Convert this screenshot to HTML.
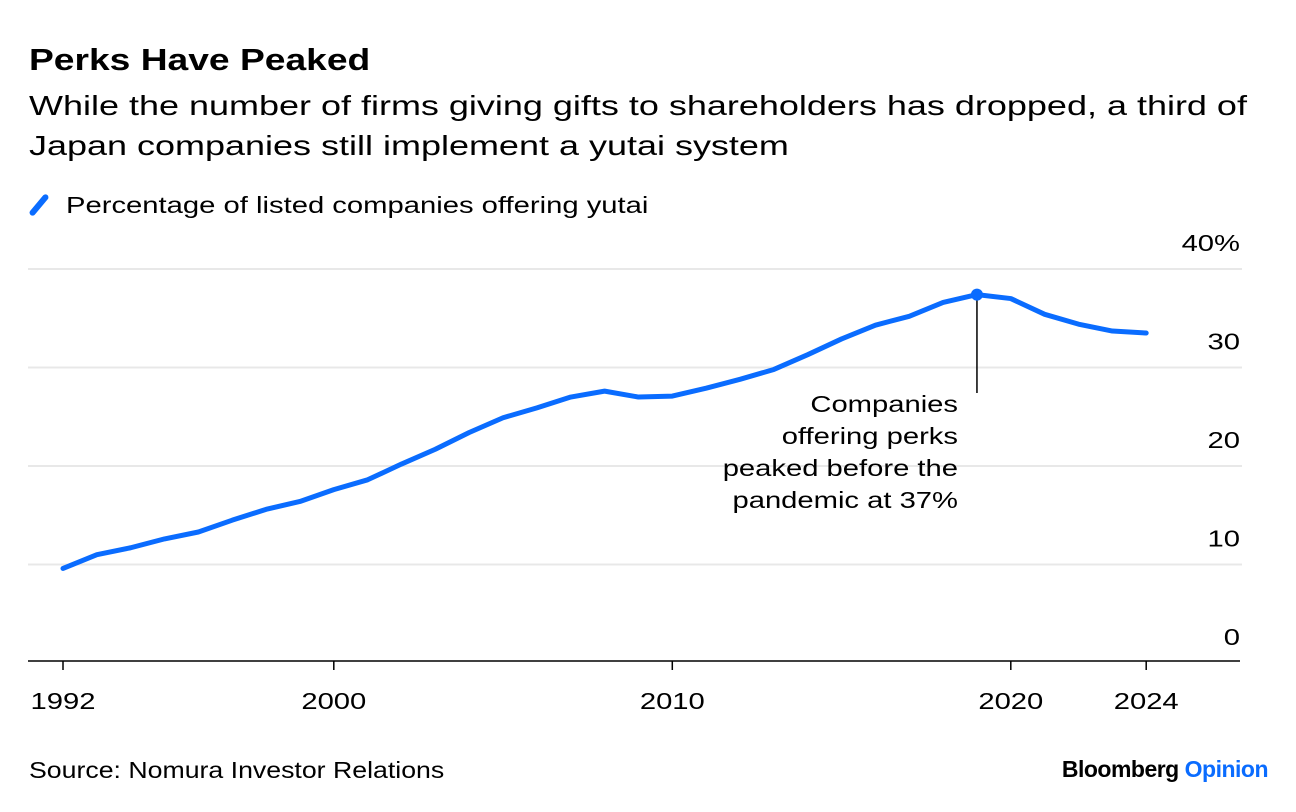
<!DOCTYPE html>
<html><head><meta charset="utf-8"><style>
body{margin:0;background:#fff;font-family:"Liberation Sans",Arial,sans-serif;}
#wrap{position:relative;width:1296px;height:812px;overflow:hidden;}
.t{position:absolute;color:#000;white-space:nowrap;transform-origin:0 0;}
</style></head><body>
<div id="wrap">
<div class="t" style="left:29px;top:42px;font-size:31px;font-weight:bold;transform:scaleX(1.2)">Perks Have Peaked</div>
<div class="t" style="left:29px;top:86px;font-size:28px;line-height:40px;transform:scaleX(1.285)">While the number of firms giving gifts to shareholders has dropped, a third of<br>Japan companies still implement a yutai system</div>
<span style="position:absolute;left:36px;top:192px;width:6px;height:26px;background:#0a6cff;transform:rotate(40deg);border-radius:3px"></span>
<div class="t" style="left:66px;top:192px;font-size:23px;transform:scaleX(1.27)">Percentage of listed companies offering yutai</div>
<svg id="chart" width="1296" height="812" style="position:absolute;left:0;top:0"></svg>
<div class="t" style="left:29px;top:757px;font-size:23px;transform:scaleX(1.16)">Source: Nomura Investor Relations</div>
<div class="t" style="right:28px;top:756px;font-size:23px;font-weight:bold;letter-spacing:-0.5px">Bloomberg <span style="color:#0a6cff">Opinion</span></div>
</div>
<script>
const years=[1992,1993,1994,1995,1996,1997,1998,1999,2000,2001,2002,2003,2004,2005,2006,2007,2008,2009,2010,2011,2012,2013,2014,2015,2016,2017,2018,2019,2020,2021,2022,2023,2024];
const values=[9.6,11.0,11.7,12.6,13.3,14.5,15.6,16.4,17.6,18.6,20.2,21.7,23.4,24.9,25.9,27.0,27.6,27.0,27.1,27.9,28.8,29.8,31.3,32.9,34.3,35.2,36.6,37.4,37.0,35.4,34.4,33.7,33.5];
const yTicks=[0,10,20,30,40];
const yTickLabels=["0","10","20","30","40%"];
const xTicks=[1992,2000,2010,2020,2024];
const peakYear=2019;
const annotationLines=["Companies","offering perks","peaked before the","pandemic at 37%"];
const ns="http://www.w3.org/2000/svg";
const svg=document.getElementById('chart');
const x=v=>63+(v-1992)*33.85;
const y=v=>663-v*9.85;
const SX=1.27;
function mk(tag,attrs,parent){const e=document.createElementNS(ns,tag);for(const k in attrs)e.setAttribute(k,attrs[k]);(parent||svg).appendChild(e);return e;}
function txt(s,tx,ty,anchor){const e=mk('text',{transform:'translate('+tx+','+ty+') scale('+SX+',1)','text-anchor':anchor,'font-size':23,'font-family':'Liberation Sans, Arial, sans-serif'});e.textContent=s;return e;}
yTicks.forEach((t,i)=>{
 if(t>0){const g=mk('line',{x1:28,x2:1242,y1:y(t),y2:y(t),stroke:'#e8e8e8','stroke-width':2});
 
 }
 const l=txt(yTickLabels[i],1240,y(t)-18,'end');
 
 
});
const ax=mk('line',{x1:28,x2:1240,y1:661,y2:661,stroke:'#000','stroke-width':1.5});


xTicks.forEach(t=>{
 const tk=mk('line',{x1:x(t),x2:x(t),y1:661,y2:670,stroke:'#000','stroke-width':1.5});
 
 
 const l=txt(String(t),x(t),709,'middle');
 
 
});
const pi=years.indexOf(peakYear);
const px=x(peakYear),py=y(values[pi]);
const al=mk('line',{x1:px,x2:px,y1:py,y2:393,stroke:'#000','stroke-width':1.5});


const p=mk('path',{d:years.map((yr,i)=>(i?'L':'M')+x(yr)+','+y(values[i])).join(''),fill:'none',stroke:'#0a6cff','stroke-width':5,'stroke-linejoin':'round','stroke-linecap':'round'});


const c=mk('circle',{cx:px,cy:py,r:6,fill:'#0a6cff'});


const at=mk('g',{});


annotationLines.forEach((s,i)=>{const e=txt(s,958,412+i*32,'end');at.appendChild(e);});
</script>
</body></html>
